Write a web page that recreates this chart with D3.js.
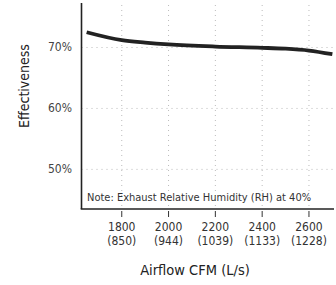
<!DOCTYPE html>
<html>
<head>
<meta charset="utf-8">
<script src="https://cdn.jsdelivr.net/npm/d3@7"></script>
<style>
  body { margin: 0; background: #fff; }
  svg { display: block; font-family: "DejaVu Sans Condensed", "Liberation Sans", sans-serif; }
</style>
</head>
<body>
<div id="grafico"></div>
<script>
// datos
const cfm = [1650, 1800, 1900, 2000, 2200, 2400, 2500, 2600, 2700];
const efectividad = [72.5, 71.2, 70.8, 70.5, 70.15, 69.95, 69.8, 69.5, 68.9];
const ticksX = [1800, 2000, 2200, 2400, 2600];
const ticksXLs = ["(850)", "(944)", "(1039)", "(1133)", "(1228)"];
const ticksY = [50, 60, 70];

const width = 336, height = 285;
const margin = { left: 81.5, right: 334, top: 3, bottom: 209 };

const svg = d3.select("#grafico").append("svg")
  .attr("width", width)
  .attr("height", height);

const x = d3.scaleLinear().domain([1628, 2707]).range([margin.left, margin.right]);
const y = d3.scaleLinear().domain([43.5, 77.3]).range([margin.bottom, margin.top]);

// rejilla
svg.append("g")
  .selectAll("line")
  .data(ticksX)
  .enter().append("line")
  .attr("x1", d => x(d)).attr("x2", d => x(d))
  .attr("y1", margin.top + 2).attr("y2", margin.bottom)
  .attr("stroke", "#bbb")
  .attr("stroke-width", 1)
  .attr("stroke-dasharray", "1,4");

svg.append("g")
  .selectAll("line")
  .data(ticksY)
  .enter().append("line")
  .attr("x1", margin.left).attr("x2", margin.right)
  .attr("y1", d => y(d)).attr("y2", d => y(d))
  .attr("stroke", "#bbb")
  .attr("stroke-width", 1)
  .attr("stroke-dasharray", "1,4");

// curva
const linea = d3.line()
  .x((d, i) => x(cfm[i]))
  .y(d => y(d))
  .curve(d3.curveMonotoneX);

svg.append("path")
  .datum(efectividad)
  .attr("d", linea)
  .attr("fill", "none")
  .attr("stroke", "#222")
  .attr("stroke-width", 3.8);

// ejes
svg.append("line")
  .attr("x1", margin.left).attr("x2", margin.left)
  .attr("y1", margin.top).attr("y2", margin.bottom)
  .attr("stroke", "#222").attr("stroke-width", 1.6);

svg.append("line")
  .attr("x1", margin.left - 0.8).attr("x2", margin.right)
  .attr("y1", margin.bottom).attr("y2", margin.bottom)
  .attr("stroke", "#222").attr("stroke-width", 1.6);

svg.append("g")
  .selectAll("line")
  .data(ticksX)
  .enter().append("line")
  .attr("x1", d => x(d)).attr("x2", d => x(d))
  .attr("y1", margin.bottom + 2).attr("y2", margin.bottom + 8)
  .attr("stroke", "#333").attr("stroke-width", 1);

const etiquetasX = svg.append("g")
  .selectAll("text")
  .data(ticksX)
  .enter().append("text")
  .attr("x", d => x(d))
  .attr("y", 231)
  .attr("text-anchor", "middle")
  .style("font-size", "12px")
  .style("fill", "#333");
etiquetasX.append("tspan").attr("x", d => x(d)).text(d => d);
etiquetasX.append("tspan").attr("x", d => x(d)).attr("dy", 13.5).text((d, i) => ticksXLs[i]);

svg.append("g")
  .selectAll("text")
  .data(ticksY)
  .enter().append("text")
  .attr("x", 72)
  .attr("y", d => y(d) + 4)
  .attr("text-anchor", "end")
  .style("font-size", "12px")
  .style("fill", "#444")
  .text(d => d + "%");

// titulos
svg.append("text")
  .attr("transform", "translate(29,86) rotate(-90)")
  .attr("text-anchor", "middle")
  .style("font-size", "14px")
  .style("fill", "#222")
  .text("Effectiveness");

svg.append("text")
  .attr("x", 195)
  .attr("y", 275)
  .attr("text-anchor", "middle")
  .style("font-size", "14.5px")
  .style("fill", "#222")
  .text("Airflow CFM (L/s)");

svg.append("text")
  .attr("x", 87)
  .attr("y", 201)
  .style("font-size", "11px")
  .style("fill", "#333")
  .text("Note: Exhaust Relative Humidity (RH) at 40%");
</script>
</body>
</html>
